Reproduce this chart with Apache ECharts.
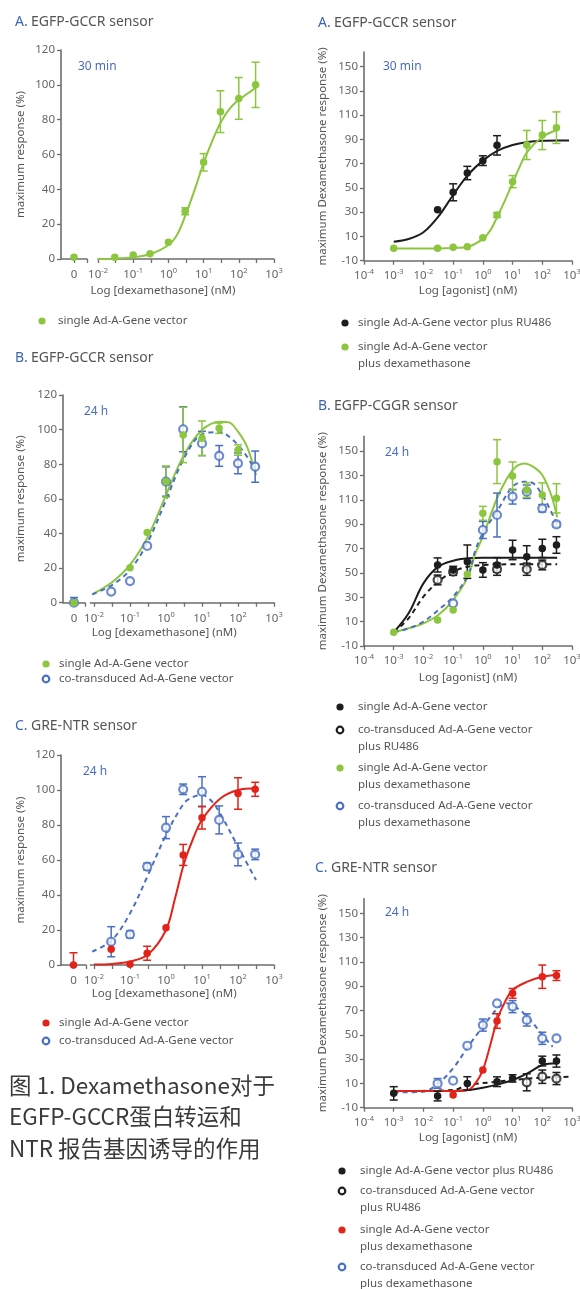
<!DOCTYPE html>
<html><head><meta charset="utf-8">
<script src="https://cdn.jsdelivr.net/npm/echarts@6.0.0/dist/echarts.min.js"></script>
<style>html,body{margin:0;padding:0;background:#fff;}#c{width:580px;height:1289px;}</style>
</head><body><div id="c"></div>
<script>
// ---------------- DATA ----------------
// Left A: EGFP-GCCR sensor, 30 min
const aL_doses = [0.03, 0.1, 0.3, 1, 3, 10, 30, 100, 300];
const aL_single = [1, 2.3, 3, 9.6, 27.4, 55.5, 84.6, 92.2, 100];
const aL_singleErr = [0, 0, 0, 0, 2, 5, 12, 12, 13];
const aL_singleZero = [1], aL_singleZeroErr = [0];
const aL_fitLogX = [-2, -1.5, -1, -0.5, 0, 0.25, 0.5, 0.75, 1, 1.25, 1.5, 1.75, 2, 2.25, 2.5];
const aL_singleFit = [0, 0.2, 1, 2.9, 8, 14, 26, 40, 55, 68, 79, 86.5, 91.3, 95, 98.6];

// Right A: EGFP-GCCR sensor, 30 min
const aR_ruDoses = [0.03, 0.1, 0.3, 1, 3];
const aR_ru = [32, 46.4, 62.3, 72.5, 85.1];
const aR_ruErr = [0, 7, 5.5, 4, 8];
const aR_dexDoses = [0.001, 0.03, 0.1, 0.3, 1, 3, 10, 30, 100, 300];
const aR_dex = [0.2, 0.2, 1, 1.5, 9, 27.7, 55.2, 85.4, 93.6, 99.7];
const aR_dexErr = [0, 0, 0, 0, 0, 2, 5, 12, 12, 13];
const aR_ruFitLogX = [-3, -2.5, -2, -1.5, -1, -0.5, 0, 0.5, 1, 1.5, 2, 2.5, 2.9];
const aR_ruFit = [5.7, 7.9, 13.4, 26.3, 44.2, 60.7, 72.5, 80.7, 85.4, 87.9, 89, 89.2, 89.2];
const aR_dexFitLogX = [-3, -2, -1, -0.5, 0, 0.25, 0.5, 0.75, 1, 1.25, 1.5, 2, 2.5];
const aR_dexFit = [0, 0, 0.5, 1.5, 8, 15, 27, 40, 54, 68, 80, 92, 98];

// Left B: EGFP-GCCR sensor, 24 h
const bL_singleDoses = [0.1, 0.3, 1, 3, 10, 30, 100];
const bL_single = [20.2, 40.5, 70, 96.9, 95, 100.8, 88.2];
const bL_singleErr = [0, 0, 9, 16, 10, 3, 3];
const bL_singleZero = [0], bL_singleZeroErr = [0];
const bL_coDoses = [0.03, 0.1, 0.3, 1, 3, 10, 30, 100, 300];
const bL_co = [6.4, 12.5, 32.8, 70, 100.2, 92, 84.8, 80.5, 78.6];
const bL_coErr = [0, 0, 0, 8.5, 13, 7, 6, 6, 9];
const bL_coZero = [0], bL_coZeroErr = [3];
const bL_fitLogX = [-2.05, -1.5, -1, -0.5, 0, 0.5, 1, 1.5, 1.75, 2, 2.25, 2.5];
const bL_singleFit = [4.8, 11.8, 21.8, 38.2, 62.2, 85.4, 99.8, 104.6, 104.2, 98.8, 90.2, 73.8];
const bL_coFit = [4.8, 10.2, 18.9, 35.3, 59.3, 83.4, 97.3, 98.6, 96, 91.1, 84.4, 75.7];

// Right B: EGFP-CGGR sensor, 24 h
const bR_dexDoses = [0.001, 0.03, 0.1, 0.3, 1, 3, 10, 30, 100, 300];
const bR_dex = [1.2, 11.3, 19.5, 48.8, 98.9, 141.3, 129.5, 118, 113.9, 111.2];
const bR_dexErr = [0, 0, 0, 0, 5.7, 18, 11.5, 6, 10, 12];
const bR_coDexDoses = [0.1, 1, 3, 10, 30, 100, 300];
const bR_coDex = [25, 85.2, 97.5, 112.5, 116.6, 103, 89.8];
const bR_coDexErr = [0, 7, 18, 6, 5.5, 3, 2];
const bR_singleDoses = [0.03, 0.1, 0.3, 1, 3, 10, 30, 100, 300];
const bR_single = [56.5, 52.4, 59.2, 52.4, 56.5, 68.8, 63.3, 70.1, 72.9];
const bR_singleErr = [5.8, 3, 13.7, 6, 6, 8, 9, 7.5, 6.8];
const bR_coRuDoses = [0.03, 0.1, 3, 30, 100];
const bR_coRu = [44.2, 51, 53, 53, 56.5];
const bR_coRuErr = [4, 3, 5, 5, 4];
const bR_fitLogX = [-3, -2.5, -2, -1.5, -1, -0.5, -0.25, 0, 0.5, 1, 1.4, 1.7, 2, 2.3, 2.5];
const bR_dexFit = [1.2, 4.5, 8.6, 15.4, 27.7, 46.9, 66, 79.7, 112.5, 134.4, 139.8, 137, 130.3, 113.9, 95.6];
const bR_coDexFit = [1.2, 4.5, 10, 19.5, 30.5, 48.3, 68.8, 82.5, 101.5, 120.7, 124.8, 123.4, 113.9, 100.2, 90];
const bR_ruFitLogX = [-3, -2.5, -2, -1.5, -1, -0.5, 0, 1, 2, 2.5];
const bR_singleFit = [1.2, 16.8, 41.4, 55.1, 60, 62, 62.5, 62.5, 62.5, 62.5];
const bR_coRuFit = [1.2, 12.7, 30.5, 42.8, 51, 55.1, 56.5, 57, 57, 57];

// Left C: GRE-NTR sensor, 24 h
const cL_singleDoses = [0.03, 0.1, 0.3, 1, 3, 10, 100, 300];
const cL_single = [9, 0.4, 6.7, 21.3, 62.9, 84.2, 98, 100.4];
const cL_singleErr = [0, 0, 4, 0, 6, 6.5, 9, 4];
const cL_singleZero = [0], cL_singleZeroErr = [7];
const cL_coDoses = [0.03, 0.1, 0.3, 1, 3, 10, 30, 100, 300];
const cL_co = [13.3, 17.5, 56.2, 78.5, 100.4, 99, 82.9, 63.2, 63.2];
const cL_coErr = [8.6, 2, 2, 6.3, 3, 8.6, 8, 6.5, 3];
const cL_singleFitLogX = [-2, -1.5, -1, -0.5, 0, 0.25, 0.5, 0.75, 1, 1.5, 2, 2.5];
const cL_singleFit = [0.3, 0.6, 2, 6, 20, 38, 58, 72, 83, 95, 100, 101];
const cL_coFitLogX = [-2.05, -1.5, -1, -0.5, 0, 0.5, 0.75, 1, 1.25, 1.5, 2, 2.5];
const cL_coFit = [7.6, 14.3, 29.5, 51.4, 74.3, 92.4, 96, 97.1, 94, 86.7, 67.6, 48.6];

// Right C: GRE-NTR sensor, 24 h
const cR_ruDoses = [0.001, 0.03, 0.3, 3, 10, 100, 300];
const cR_ru = [1.8, -0.4, 10, 11.4, 14.1, 28.4, 28.4];
const cR_ruErr = [5.5, 4, 5.5, 4, 3, 4, 5];
const cR_coRuDoses = [30, 100, 300];
const cR_coRu = [10.9, 15.5, 14];
const cR_coRuErr = [7, 5.5, 5];
const cR_dexDoses = [0.1, 1, 3, 10, 100, 300];
const cR_dex = [0.4, 21, 61.3, 84.1, 97.8, 98.7];
const cR_dexErr = [0, 0, 6, 4, 9.6, 4];
const cR_coDexDoses = [0.03, 0.1, 0.3, 1, 3, 10, 30, 100, 300];
const cR_coDex = [10, 12.2, 41, 58, 75.9, 73.2, 62.2, 47.1, 47.1];
const cR_coDexErr = [4, 0, 0, 5, 0, 5, 5, 5, 0];
const cR_dexFitLogX = [-3, -2, -1, -0.5, -0.25, 0, 0.25, 0.5, 0.75, 1, 1.5, 2, 2.5];
const cR_dexFit = [3.7, 3.7, 3.7, 4.5, 10, 21, 41.6, 63.5, 77.3, 86.9, 93.7, 97.8, 99.2];
const cR_coDexFitLogX = [-3, -2, -1.5, -1, -0.5, 0, 0.5, 0.8, 1, 1.5, 2, 2.35];
const cR_coDexFit = [2.6, 3.2, 10, 22.4, 40.2, 56.7, 71.8, 75.9, 74.5, 64.9, 49.8, 40.2];
const cR_ruFitLogX = [-3, -1, -0.5, 0, 0.5, 1, 1.5, 2, 2.5];
const cR_ruFit = [3.7, 3.7, 4.5, 6.5, 9.2, 12.8, 18.3, 25.1, 26.5];
const cR_coRuFitLogX = [-3, -1, -0.5, 0.5, 1, 2, 2.97];
const cR_coRuFit = [3.7, 4.5, 8.7, 11.4, 12.8, 14.7, 15.5];

// Tick values
const leftYTicks = [0, 20, 40, 60, 80, 100, 120];
const rightYTicks = [-10, 10, 30, 50, 70, 90, 110, 130, 150];
const leftXLabels = [-2, -1, 0, 1, 2, 3];
const leftXTicks = [-2, -1.5, -1, -0.5, 0, 0.5, 1, 1.5, 2, 2.5, 3];
const rightXLabels = [-4, -3, -2, -1, 0, 1, 2, 3];

// ---------------- STYLE ----------------
const FONT = "'Noto Sans', sans-serif";
const GRAY = '#666';
const AXIS = '#6e6e6e';
const GREEN = '#8cc63f';
const BLUE = '#4a6fc3';
const BLACK = '#1d1d1d';
const RED = '#e2231a';
const TBLUE = '#3d66b5';

const chart = echarts.init(document.getElementById('c'), null, {renderer: 'canvas'});

const grids = [
  {left: 61, top: 50, width: 26, height: 209},       // 0 aL zero
  {left: 98, top: 50, width: 176, height: 209},      // 1 aL
  {left: 63, top: 395, width: 22, height: 207.7},    // 2 bL zero
  {left: 90.4, top: 395, width: 183.6, height: 207.7}, // 3 bL
  {left: 61, top: 755, width: 25, height: 210},      // 4 cL zero
  {left: 90.4, top: 755, width: 183.6, height: 210}, // 5 cL
  {left: 364, top: 52.1, width: 208, height: 208.6}, // 6 aR
  {left: 364, top: 436.4, width: 208, height: 209.6},// 7 bR
  {left: 364, top: 898.7, width: 208, height: 209}   // 8 cR
].map(g => Object.assign({outerBoundsMode: 'none', containLabel: false}, g));

const axisLine = {show: true, onZero: false, lineStyle: {color: AXIS, width: 1.6}};
const axisTickStyle = {show: true, length: 4, lineStyle: {color: AXIS, width: 1.3}};
const xRich = {
  b: {fontSize: 11.5, color: GRAY, fontFamily: FONT, lineHeight: 16},
  s: {fontSize: 7.5, color: GRAY, fontFamily: FONT, lineHeight: 8, verticalAlign: 'top'}
};
const powFmt = v => '{b|10}{s|' + Math.round(v) + '}';
const nameStyle = {color: '#555', fontSize: 11.5, fontFamily: FONT};

function zeroXAxis(gi) {
  return {type: 'value', gridIndex: gi, min: 0, max: 1, axisLine,
    axisTick: Object.assign({customValues: [0.5, 1]}, axisTickStyle),
    axisLabel: {customValues: [0.5], formatter: () => '0', color: GRAY, fontSize: 11.5, fontFamily: FONT, margin: 10},
    splitLine: {show: false}};
}
function logXAxis(gi, min, max, labels, ticks, name, gap, pad, margin) {
  return {type: 'value', gridIndex: gi, min, max, axisLine,
    axisTick: Object.assign({customValues: ticks}, axisTickStyle),
    axisLabel: {customValues: labels, formatter: powFmt, rich: xRich, margin},
    splitLine: {show: false},
    name, nameLocation: 'middle', nameGap: gap,
    nameTextStyle: Object.assign({padding: [0, pad, 0, 0]}, nameStyle)};
}
function yAx(gi, min, max, ticks, name, gap, show) {
  return {type: 'value', gridIndex: gi, min, max, show,
    axisLine, axisTick: Object.assign({customValues: ticks}, axisTickStyle),
    axisLabel: {customValues: ticks, color: GRAY, fontSize: 11.5, fontFamily: FONT, margin: 6},
    splitLine: {show: false},
    name, nameLocation: 'middle', nameGap: gap, nameTextStyle: nameStyle};
}

const xAxes = [
  zeroXAxis(0),
  logXAxis(1, -2, 3, leftXLabels, leftXTicks, 'Log [dexamethasone] (nM)', 26, 46, 8),
  zeroXAxis(2),
  logXAxis(3, -2.1, 3, leftXLabels, leftXTicks, 'Log [dexamethasone] (nM)', 24, 36, 8),
  zeroXAxis(4),
  logXAxis(5, -2.1, 3, leftXLabels, leftXTicks, 'Log [dexamethasone] (nM)', 23, 36, 8),
  logXAxis(6, -4, 3, rightXLabels, rightXLabels, 'Log [agonist] (nM)', 24, 0, 7),
  logXAxis(7, -4, 3, rightXLabels, rightXLabels, 'Log [agonist] (nM)', 26, 0, 7),
  logXAxis(8, -4, 3, rightXLabels, rightXLabels, 'Log [agonist] (nM)', 24, 0, 7)
];
const yAxes = [
  yAx(0, 0, 120, leftYTicks, 'maximum response (%)', 34, true),
  yAx(1, 0, 120, leftYTicks, '', 0, false),
  yAx(2, 0, 120, leftYTicks, 'maximum response (%)', 36, true),
  yAx(3, 0, 120, leftYTicks, '', 0, false),
  yAx(4, 0, 120, leftYTicks, 'maximum response (%)', 34, true),
  yAx(5, 0, 120, leftYTicks, '', 0, false),
  yAx(6, -10, 162, rightYTicks, 'maximum Dexamethasone response (%)', 35, true),
  yAx(7, -10, 162, rightYTicks, 'maximum Dexamethasone response (%)', 35, true),
  yAx(8, -10, 162, rightYTicks, 'maximum Dexamethasone response (%)', 35, true)
];

// ---------------- SERIES HELPERS ----------------
const series = [];
function fit(gi, logx, vals, color, dashed) {
  series.push({type: 'line', xAxisIndex: gi, yAxisIndex: gi, silent: true,
    data: logx.map((x, i) => [x, vals[i]]), smooth: 0.35, symbol: 'none',
    lineStyle: {color, width: 2, type: dashed ? [5, 4] : 'solid'}, z: 2});
}
function errRender(params, api) {
  const e = api.value(2);
  if (!e) return null;
  const x = api.value(0), y = api.value(1);
  const t = api.coord([x, y + e]), b = api.coord([x, y - e]);
  const hw = 4;
  const style = {stroke: api.visual('color'), lineWidth: 1.5};
  return {type: 'group', children: [
    {type: 'line', shape: {x1: t[0], y1: t[1], x2: b[0], y2: b[1]}, style},
    {type: 'line', shape: {x1: t[0] - hw, y1: t[1], x2: t[0] + hw, y2: t[1]}, style},
    {type: 'line', shape: {x1: b[0] - hw, y1: b[1], x2: b[0] + hw, y2: b[1]}, style}
  ]};
}
function pts(gi, xs, vals, errs, color, open, clip) {
  series.push({type: 'custom', xAxisIndex: gi, yAxisIndex: gi, silent: true, clip: !!clip,
    renderItem: errRender, itemStyle: {color}, encode: {x: 0, y: 1},
    data: xs.map((x, i) => [x, vals[i], errs[i]]), z: 3});
  series.push({type: 'scatter', xAxisIndex: gi, yAxisIndex: gi, silent: true,
    data: xs.map((x, i) => [x, vals[i]]), symbol: 'circle',
    symbolSize: open ? 8 : 7.5,
    itemStyle: open ? {color: '#fff', borderColor: color, borderWidth: 2.2} : {color, opacity: 1},
    z: open ? 4 : 5});
}
const lg = ds => ds.map(d => Math.log10(d));
const mid = arr => arr.map(() => 0.5);

// Left A
fit(1, aL_fitLogX, aL_singleFit, GREEN, false);
pts(1, lg(aL_doses), aL_single, aL_singleErr, GREEN, false);
pts(0, mid(aL_singleZero), aL_singleZero, aL_singleZeroErr, GREEN, false, true);
// Left B
fit(3, bL_fitLogX, bL_singleFit, GREEN, false);
fit(3, bL_fitLogX, bL_coFit, BLUE, true);
pts(3, lg(bL_coDoses), bL_co, bL_coErr, BLUE, true);
pts(3, lg(bL_singleDoses), bL_single, bL_singleErr, GREEN, false);
pts(2, mid(bL_coZero), bL_coZero, bL_coZeroErr, BLUE, true, true);
pts(2, mid(bL_singleZero), bL_singleZero, bL_singleZeroErr, GREEN, false, true);
// Left C
fit(5, cL_singleFitLogX, cL_singleFit, RED, false);
fit(5, cL_coFitLogX, cL_coFit, BLUE, true);
pts(5, lg(cL_coDoses), cL_co, cL_coErr, BLUE, true);
pts(5, lg(cL_singleDoses), cL_single, cL_singleErr, RED, false);
pts(4, mid(cL_singleZero), cL_singleZero, cL_singleZeroErr, RED, false, true);
// Right A
fit(6, aR_ruFitLogX, aR_ruFit, BLACK, false);
fit(6, aR_dexFitLogX, aR_dexFit, GREEN, false);
pts(6, lg(aR_ruDoses), aR_ru, aR_ruErr, BLACK, false);
pts(6, lg(aR_dexDoses), aR_dex, aR_dexErr, GREEN, false);
// Right B
fit(7, bR_ruFitLogX, bR_singleFit, BLACK, false);
fit(7, bR_ruFitLogX, bR_coRuFit, BLACK, true);
fit(7, bR_fitLogX, bR_dexFit, GREEN, false);
fit(7, bR_fitLogX, bR_coDexFit, BLUE, true);
pts(7, lg(bR_coRuDoses), bR_coRu, bR_coRuErr, BLACK, true);
pts(7, lg(bR_singleDoses), bR_single, bR_singleErr, BLACK, false);
pts(7, lg(bR_coDexDoses), bR_coDex, bR_coDexErr, BLUE, true);
pts(7, lg(bR_dexDoses), bR_dex, bR_dexErr, GREEN, false);
// Right C
fit(8, cR_ruFitLogX, cR_ruFit, BLACK, false);
fit(8, cR_coRuFitLogX, cR_coRuFit, BLACK, true);
fit(8, cR_coDexFitLogX, cR_coDexFit, BLUE, true);
fit(8, cR_dexFitLogX, cR_dexFit, RED, false);
pts(8, lg(cR_coRuDoses), cR_coRu, cR_coRuErr, BLACK, true);
pts(8, lg(cR_ruDoses), cR_ru, cR_ruErr, BLACK, false);
pts(8, lg(cR_coDexDoses), cR_coDex, cR_coDexErr, BLUE, true);
pts(8, lg(cR_dexDoses), cR_dex, cR_dexErr, RED, false);

// ---------------- TEXT / LEGENDS ----------------
const G = [];
function title(x, y, letter, text) {
  G.push({type: 'text', x, y, style: {text: '{a|' + letter + '} {b|' + text + '}', verticalAlign: 'middle',
    rich: {a: {fill: TBLUE, fontSize: 14, fontFamily: FONT}, b: {fill: '#555', fontSize: 14, fontFamily: FONT}}}});
}
function note(x, y, text) {
  G.push({type: 'text', x, y, style: {text, fill: '#4a6cc0', fontSize: 12, fontFamily: FONT, verticalAlign: 'middle'}});
}
function leg(cx, cy, tx, color, open, lines) {
  G.push({type: 'circle', shape: {cx, cy, r: open ? 3.3 : 3.6},
    style: open ? {fill: '#fff', stroke: color, lineWidth: 2.2} : {fill: color}});
  G.push({type: 'text', x: tx, y: cy - 8.5, style: {text: lines.join('\n'), fill: '#555', fontSize: 11.5,
    fontFamily: FONT, lineHeight: 17, verticalAlign: 'top'}});
}
title(15, 22, 'A.', 'EGFP-GCCR sensor');
title(318, 23, 'A.', 'EGFP-GCCR sensor');
title(15, 358, 'B.', 'EGFP-GCCR sensor');
title(318, 406, 'B.', 'EGFP-CGGR sensor');
title(15, 726, 'C.', 'GRE-NTR sensor');
title(315, 868, 'C.', 'GRE-NTR sensor');
note(78, 67, '30 min');
note(383, 67, '30 min');
note(84, 412, '24 h');
note(385, 453, '24 h');
note(83, 772, '24 h');
note(385, 913, '24 h');

leg(42, 321, 58, GREEN, false, ['single Ad-A-Gene vector']);
leg(46, 664, 59, GREEN, false, ['single Ad-A-Gene vector']);
leg(46, 679, 59, BLUE, true, ['co-transduced Ad-A-Gene vector']);
leg(46, 1023, 59, RED, false, ['single Ad-A-Gene vector']);
leg(46, 1041, 59, BLUE, true, ['co-transduced Ad-A-Gene vector']);

leg(345, 323, 358, BLACK, false, ['single Ad-A-Gene vector plus RU486']);
leg(345, 347, 358, GREEN, false, ['single Ad-A-Gene vector', 'plus dexamethasone']);

leg(340, 707, 358, BLACK, false, ['single Ad-A-Gene vector']);
leg(340, 730, 358, BLACK, true, ['co-transduced Ad-A-Gene vector', 'plus RU486']);
leg(340, 768, 358, GREEN, false, ['single Ad-A-Gene vector', 'plus dexamethasone']);
leg(340, 806, 358, BLUE, true, ['co-transduced Ad-A-Gene vector', 'plus dexamethasone']);

leg(342, 1171, 360, BLACK, false, ['single Ad-A-Gene vector plus RU486']);
leg(342, 1191, 360, BLACK, true, ['co-transduced Ad-A-Gene vector', 'plus RU486']);
leg(342, 1230, 360, RED, false, ['single Ad-A-Gene vector', 'plus dexamethasone']);
leg(342, 1267, 360, BLUE, true, ['co-transduced Ad-A-Gene vector', 'plus dexamethasone']);

const captionLines = ['图 1. Dexamethasone对于', 'EGFP-GCCR蛋白转运和', 'NTR 报告基因诱导的作用'];
const capFont = "'Noto Sans CJK SC', 'Noto Sans', sans-serif";
captionLines.forEach((t, i) => {
  G.push({type: 'text', x: 9, y: 1085 + i * 31.5, style: {text: t, fill: '#3a3a3a', fontSize: 22.5,
    fontFamily: capFont, verticalAlign: 'middle'}});
});

chart.setOption({
  animation: false,
  backgroundColor: '#fff',
  textStyle: {fontFamily: FONT},
  grid: grids,
  xAxis: xAxes,
  yAxis: yAxes,
  series,
  graphic: {elements: G}
});
</script></body></html>
